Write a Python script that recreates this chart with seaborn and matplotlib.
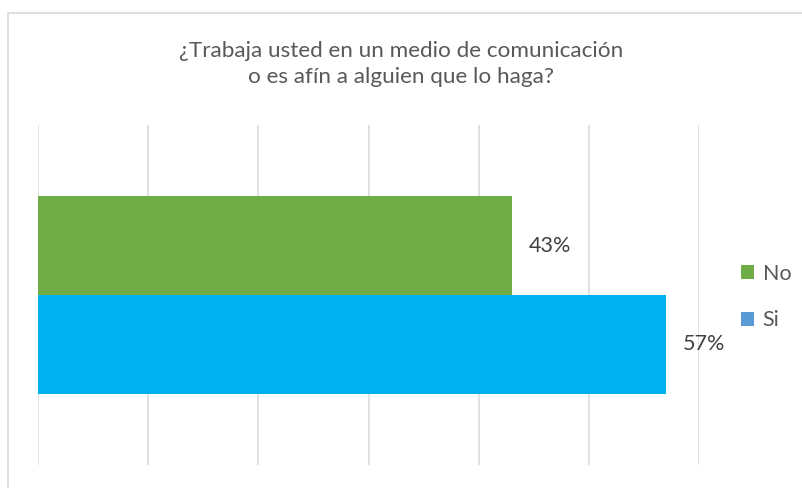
import numpy as np
import pandas as pd
import matplotlib.pyplot as plt
import seaborn as sns
from matplotlib.patches import Patch
from matplotlib.lines import Line2D

# datos de la encuesta
respuestas = ["No", "Si"]
porcentajes = [0.43, 0.57]
colores_barra = ["#70AD47", "#00B0F0"]
colores_leyenda = ["#70AD47", "#5B9BD5"]
titulo = "¿Trabaja usted en un medio de comunicación\no es afín a alguien que lo haga?"

df = pd.DataFrame({"grupo": ["a"] * len(respuestas),
                   "respuesta": respuestas,
                   "valor": porcentajes})

sns.set_style("white")
plt.rcParams["font.family"] = ["Lato", "DejaVu Sans"]

fig = plt.figure(figsize=(8.02, 4.88), dpi=100)
ax = fig.add_axes([38 / 802, 1 - 465 / 488, (699 - 38) / 802, (465 - 125) / 488])

sns.barplot(data=df, y="grupo", x="valor", hue="respuesta", orient="h",
            palette=colores_barra, width=0.582, saturation=1, ax=ax, legend=False,
            linewidth=0, edgecolor="none")

ax.set_xlim(0, 0.6)
ax.set_xticks(np.arange(0, 0.61, 0.1))
ax.grid(axis="x", color="#D9D9D9", linewidth=1.1)
ax.set_axisbelow(True)
for s in ax.spines.values():
    s.set_visible(False)
ax.set_xticklabels([])
ax.set_yticklabels([])
ax.set_xlabel("")
ax.set_ylabel("")
ax.tick_params(length=0)

for cont in ax.containers:
    ax.bar_label(cont, labels=[f"{v*100:.0f}%" for v in cont.datavalues],
                 padding=12, fontsize=15.5, color="#404040")

# leyenda a la derecha
handles = [Patch(facecolor=c, edgecolor="none") for c in colores_leyenda]
fig.legend(handles, respuestas, loc="center left", bbox_to_anchor=(741 / 802, 1 - 297 / 488),
           frameon=False, fontsize=15.5, labelcolor="#595959", handlelength=0.6,
           handleheight=0.6, handletextpad=0.4, labelspacing=1.25, borderpad=0,
           borderaxespad=0)

fig.text(0.5, 1 - 64 / 488, titulo, ha="center", va="center", fontsize=16.2,
         color="#595959", linespacing=1.35)

# borde del gráfico
fig.add_artist(Line2D([8 / 802, 1], [1 - 13 / 488, 1 - 13 / 488], color="#D9D9D9", lw=1.2))
fig.add_artist(Line2D([8 / 802, 8 / 802], [0, 1 - 13 / 488], color="#D9D9D9", lw=1.2))

fig.savefig("out.png", dpi=100)
